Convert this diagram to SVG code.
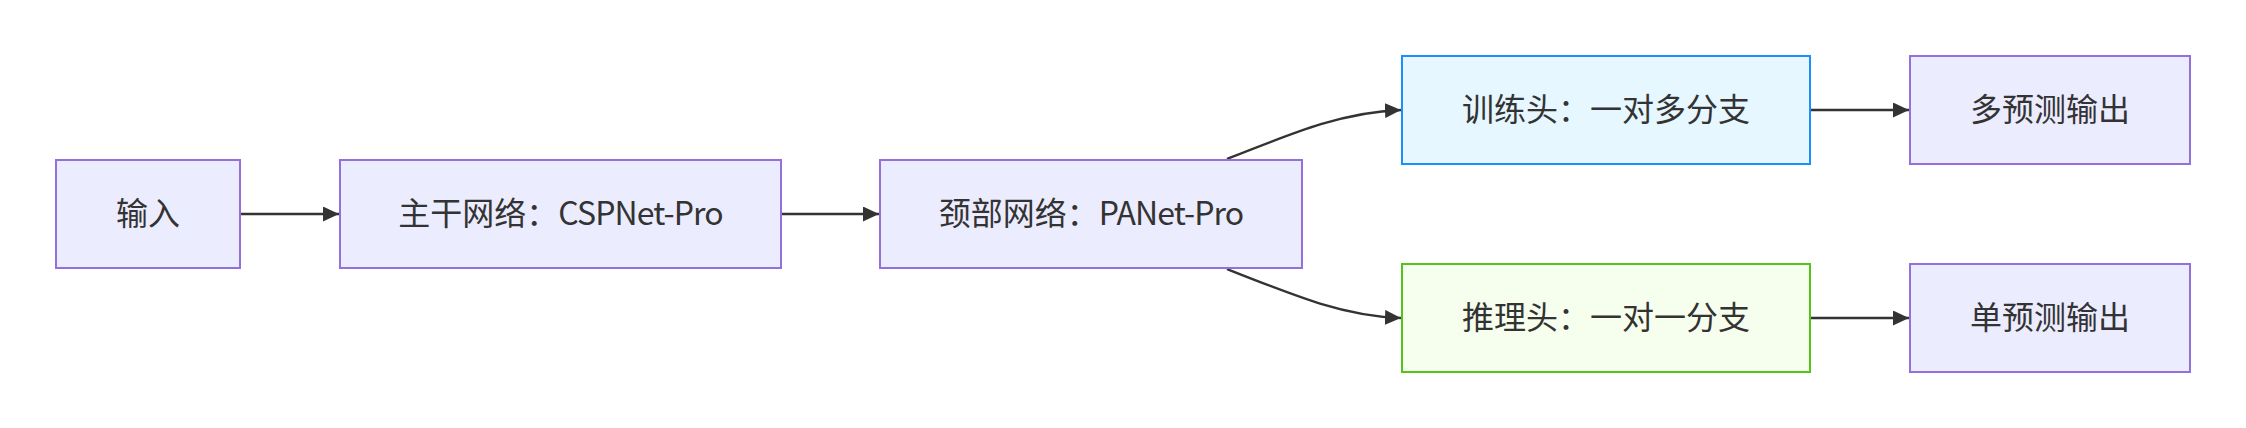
<svg xmlns="http://www.w3.org/2000/svg" width="2246" height="428" viewBox="0 0 2246 428">
<defs>
<style>
.node rect{fill:#ECECFF;stroke:#9370DB;stroke-width:2}
.node.train rect{fill:#E6F7FF;stroke:#1890FF}
.node.infer rect{fill:#F6FFED;stroke:#52C41A}
.node text{font-family:"Noto Sans CJK SC","Noto Sans",sans-serif;font-size:32px;fill:#333333;text-anchor:middle}
.node text .lat{letter-spacing:-0.9px}
.edges path{fill:none;stroke:#333333;stroke-width:2.4;marker-end:url(#arrow)}
</style>
<marker id="arrow" viewBox="0 0 10 10" refX="10" refY="5" markerUnits="userSpaceOnUse" markerWidth="16" markerHeight="15" preserveAspectRatio="none" orient="auto">
<path d="M0,0 L10,5 L0,10 z" fill="#333333"/>
</marker>
</defs>
<rect width="2246" height="428" fill="#ffffff"/>
<g class="edges">
<path d="M241,214 L339,214"/>
<path d="M782,214 L879,214"/>
<path d="M1227,159 C1300,130 1345,112 1401,110"/>
<path d="M1227,269 C1300,298 1345,316 1401,318"/>
<path d="M1811,110 L1909,110"/>
<path d="M1811,318 L1909,318"/>
</g>
<g id="input" class="node"><rect x="56" y="160" width="184" height="108"/><text x="148" y="224.5">输入</text></g>
<g id="backbone" class="node"><rect x="340" y="160" width="441" height="108"/><text x="560.5" y="224.5">主干网络：<tspan class="lat">CSPNet-Pro</tspan></text></g>
<g id="neck" class="node"><rect x="880" y="160" width="422" height="108"/><text x="1091" y="224.5">颈部网络：<tspan class="lat">PANet-Pro</tspan></text></g>
<g id="train" class="node train"><rect x="1402" y="56" width="408" height="108"/><text x="1606" y="120.5">训练头：一对多分支</text></g>
<g id="multi" class="node"><rect x="1910" y="56" width="280" height="108"/><text x="2050" y="120.5">多预测输出</text></g>
<g id="infer" class="node infer"><rect x="1402" y="264" width="408" height="108"/><text x="1606" y="328.5">推理头：一对一分支</text></g>
<g id="single" class="node"><rect x="1910" y="264" width="280" height="108"/><text x="2050" y="328.5">单预测输出</text></g>
</svg>
